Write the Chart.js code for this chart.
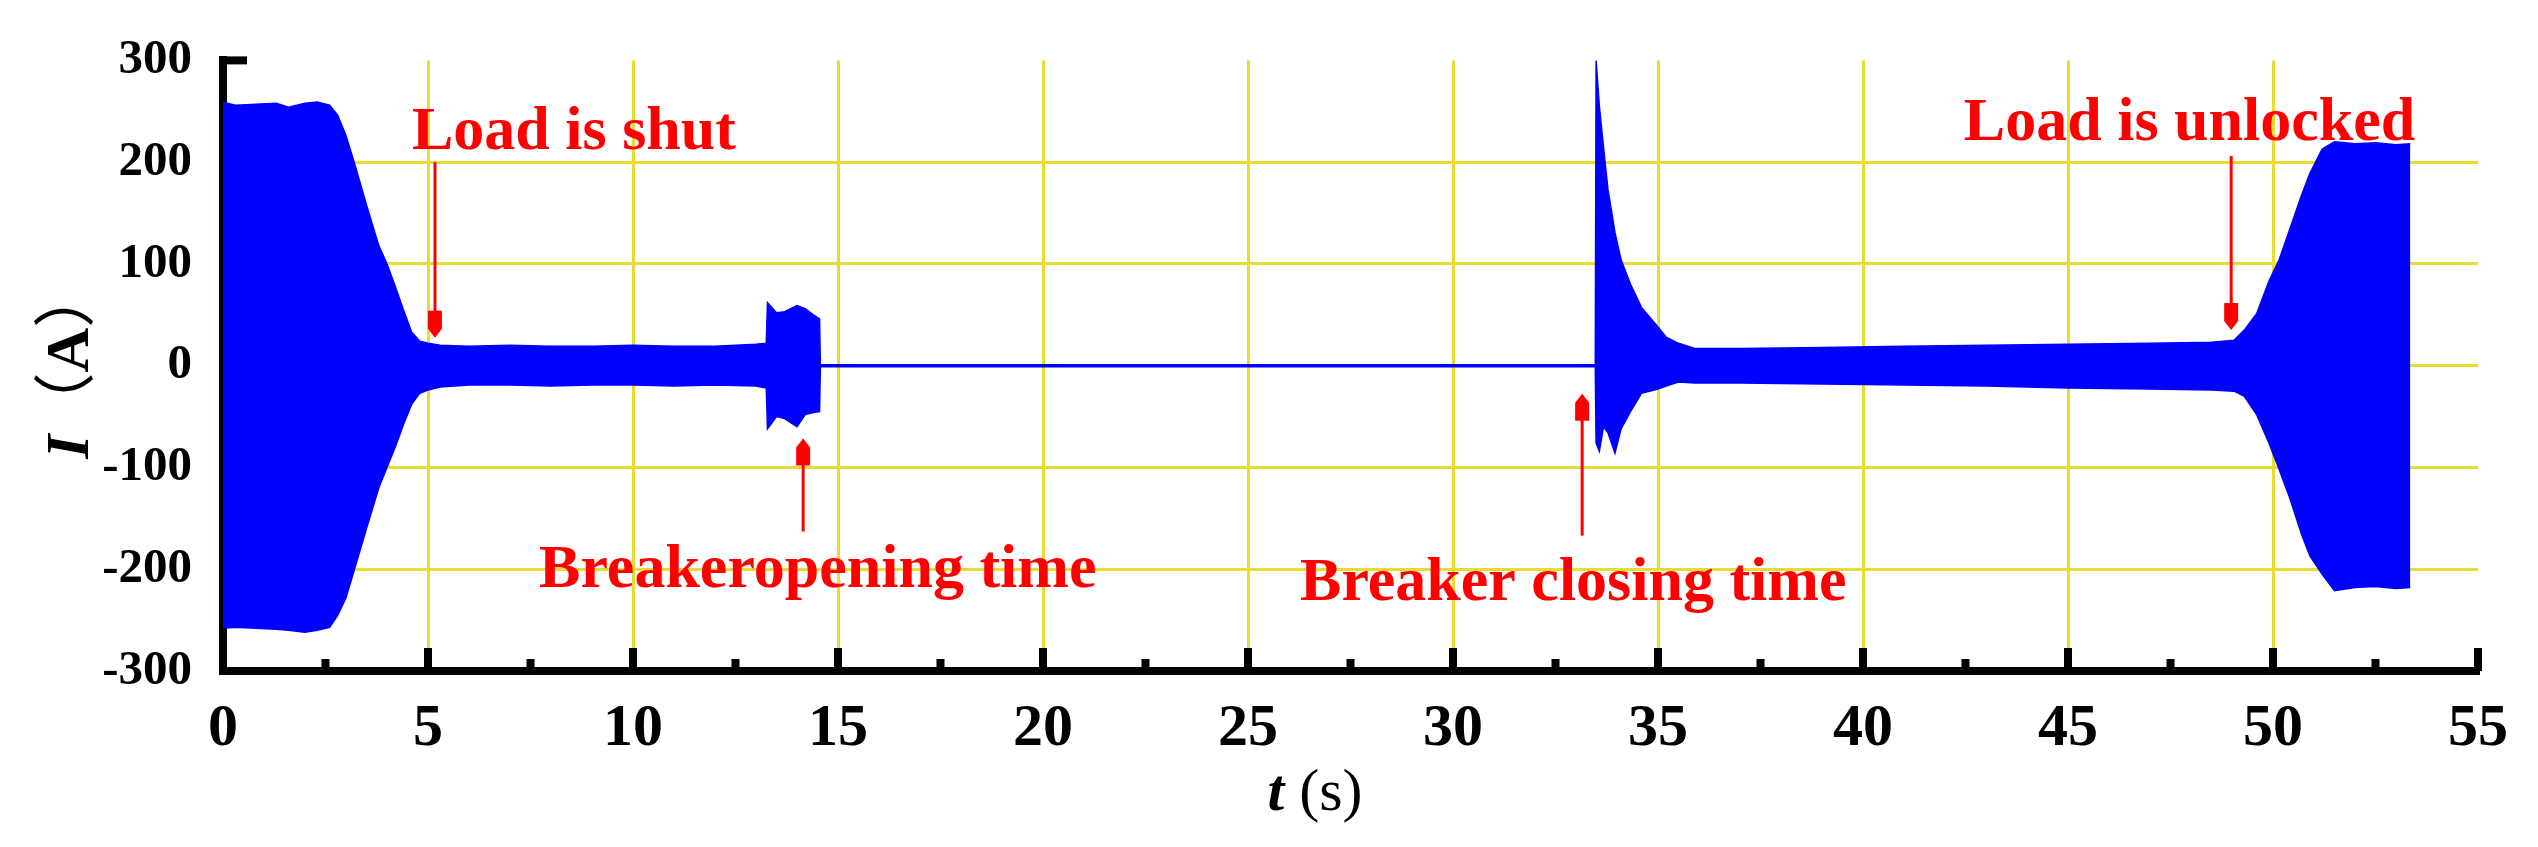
<!DOCTYPE html>
<html lang="en">
<head>
<meta charset="UTF-8" />
<title>Breaker current</title>
<script src="https://cdn.jsdelivr.net/npm/chart.js@4.4.1/dist/chart.umd.min.js"></script>
<style>
   html, body { margin: 0; padding: 0; background: #fff; }
   #wrap { width: 2538px; height: 847px; position: relative; }
</style>
</head>
<body>
<div id="wrap"><canvas id="chart"></canvas></div>
<script>
// envelope of the measured current, I (A) against t (s)
const times = [0, 0.3, 0.8, 1.3, 1.6, 2.0, 2.3, 2.6, 2.8, 3.0,
   3.2, 3.5, 3.8, 4.0, 4.2, 4.4, 4.6, 4.8, 5.0, 5.3,
   6, 7, 8, 9, 10, 11, 12, 13, 13.25, 13.28,
   13.5, 13.7, 14.0, 14.2, 14.4, 14.55, 14.57, 20, 25, 30,
   33.47, 33.49, 33.57, 33.67, 33.78, 33.95, 34.1, 34.33, 34.6, 35.0,
   35.2, 35.5, 35.9, 37, 39, 41, 43, 45, 47, 48.5,
   49.05, 49.3, 49.6, 49.9, 50.15, 50.4, 50.7, 50.9, 51.2, 51.5,
   52.0, 52.5, 53.0, 53.35];
const upper = [259, 256, 257, 258, 254, 258, 259, 256, 246, 226,
   200, 158, 118, 100, 78, 55, 33, 24, 22, 20,
   19, 20, 19, 19, 20, 19, 19, 21, 22, 62,
   52, 53, 59, 56, 50, 46, 1, 1, 1, 1,
   1, 300, 255, 215, 173, 131, 104, 80, 57, 38,
   28, 22, 17, 17, 18, 19, 20, 21, 22, 23,
   25, 35, 51, 83, 104, 133, 168, 189, 213, 220,
   218, 219, 217, 218];
const lower = [-258, -257, -258, -259, -260, -262, -260, -257, -245, -228,
   -201, -160, -120, -100, -80, -58, -38, -27, -24, -21,
   -19, -19, -20, -19, -19, -20, -19, -20, -22, -62,
   -50, -52, -60, -48, -46, -45, -1, -1, -1, -1,
   -1, -76, -84, -60, -66, -86, -62, -45, -27, -23,
   -20, -16, -17, -17, -18, -19, -20, -22, -23, -24,
   -25, -30, -48, -76, -102, -129, -166, -187, -205, -221,
   -218, -217, -219, -218];

// annotations (data coordinates)
const notes = ['Load is shut', 'Breakeropening time', 'Breaker closing time', 'Load is unlocked'];
const noteX = [4.61, 7.71, 26.27, 42.46];
const noteY = [212.7, -217.6, -230, 221.6];
const arrowX = [5.17, 14.15, 33.15, 48.98];
const arrowFrom = [200, -163, -167, 206];
const arrowTo = [27.5, -71.6, -27.5, 35];

const BLUE = '#0000ff';
const RED = '#ff0000';
const GRID = 'rgb(232, 220, 48)';
const SERIF = '"Liberation Serif", "Times New Roman", serif';

const notesPlugin = {
   id: 'notes',
   afterDatasetsDraw(chart) {
      const { ctx, scales: { x, y } } = chart;
      ctx.save();
      ctx.fillStyle = RED;
      ctx.strokeStyle = RED;
      ctx.font = 'bold 62px ' + SERIF;
      ctx.textBaseline = 'alphabetic';
      notes.forEach((txt, i) => {
         ctx.fillText(txt, x.getPixelForValue(noteX[i]), y.getPixelForValue(noteY[i]));
         const ax = x.getPixelForValue(arrowX[i]);
         const y0 = y.getPixelForValue(arrowFrom[i]);
         const y1 = y.getPixelForValue(arrowTo[i]);
         const dir = y1 > y0 ? 1 : -1;
         ctx.lineWidth = 3;
         ctx.beginPath();
         ctx.moveTo(ax, y0);
         ctx.lineTo(ax, y1 - dir * 20);
         ctx.stroke();
         ctx.beginPath();
         ctx.moveTo(ax, y1);
         ctx.lineTo(ax + 7, y1 - dir * 9);
         ctx.lineTo(ax + 7, y1 - dir * 27);
         ctx.lineTo(ax - 7, y1 - dir * 27);
         ctx.lineTo(ax - 7, y1 - dir * 9);
         ctx.closePath();
         ctx.fill();
      });
      ctx.restore();
   }
};

const framePlugin = {
   id: 'frame',
   beforeDatasetsDraw(chart) {
      // inward tick marks
      const { ctx, chartArea: a, scales: { x, y } } = chart;
      ctx.save();
      ctx.fillStyle = '#000';
      for (let v = 2.5; v <= x.max; v += 2.5) {
         const px = x.getPixelForValue(v);
         const h = v % 5 === 0 ? 23 : 12;
         ctx.fillRect(px - 4, a.bottom - h, 8, h);
      }
      for (let v = y.min + 100; v <= y.max; v += 100) {
         const py = y.getPixelForValue(v);
         ctx.fillRect(a.left, py - 4, 24, 8);
      }
      ctx.restore();
   },
   afterDraw(chart) {
      // axis titles with mixed styles
      const { ctx, chartArea: a } = chart;
      ctx.save();
      ctx.fillStyle = '#000';
      ctx.textBaseline = 'alphabetic';
      let tx = (a.left + a.right) / 2 - 83;
      const ty = a.bottom + 139;
      ctx.font = 'italic bold 60px ' + SERIF;
      ctx.fillText('t', tx, ty);
      tx += ctx.measureText('t').width;
      ctx.font = '60px ' + SERIF;
      ctx.fillText(' (s)', tx, ty);

      ctx.translate(a.left - 135, (a.top + a.bottom) / 2 + 93);
      ctx.rotate(-Math.PI / 2);
      let w = 0;
      ctx.font = 'italic bold 62px ' + SERIF;
      ctx.fillText('I', w, 0);
      w += ctx.measureText('I').width;
      ctx.font = '62px "Noto Sans CJK SC"';
      ctx.fillText('（', w, 0);
      w += ctx.measureText('（').width;
      ctx.font = 'bold 62px ' + SERIF;
      ctx.fillText('A', w, 0);
      w += ctx.measureText('A').width;
      ctx.font = '62px "Noto Sans CJK SC"';
      ctx.fillText('）', w, 0);
      ctx.restore();
   }
};

const ctx = document.getElementById('chart').getContext('2d');
const chart = new Chart(ctx, {
   type: 'line',
   data: {
      datasets: [
         {
            label: 'upper',
            data: times.map((t, i) => ({ x: t, y: upper[i] })),
            borderColor: BLUE,
            backgroundColor: BLUE,
            borderWidth: 1.5,
            pointRadius: 0,
            tension: 0,
            fill: '+1'
         },
         {
            label: 'lower',
            data: times.map((t, i) => ({ x: t, y: lower[i] })),
            borderColor: BLUE,
            backgroundColor: BLUE,
            borderWidth: 1.5,
            pointRadius: 0,
            tension: 0,
            fill: false
         }
      ]
   },
   options: {
      responsive: true,
      maintainAspectRatio: false,
      animation: false,
      layout: { padding: { left: 0, top: 59, right: 60, bottom: 0 } },
      plugins: {
         legend: { display: false },
         tooltip: { enabled: false }
      },
      scales: {
         x: {
            type: 'linear',
            min: 0,
            max: 55,
            afterFit: (scale) => { scale.height = 176; },
            ticks: {
               stepSize: 5,
               autoSkip: false,
               maxRotation: 0,
               padding: 22,
               color: '#000',
               font: { family: SERIF, size: 60, weight: 'bold', lineHeight: 1.2 }
            },
            grid: {
               drawTicks: false,
               lineWidth: 3,
               color: (c) => (c.tick && (c.tick.value === 0 || c.tick.value === 55)) ? 'rgba(0,0,0,0)' : GRID
            },
            border: { display: true, color: '#000', width: 8 }
         },
         y: {
            min: -300,
            max: 300,
            afterFit: (scale) => { scale.width = 223; },
            ticks: {
               stepSize: 100,
               padding: 31,
               color: '#000',
               font: { family: SERIF, size: 49, weight: 'bold', lineHeight: 1.2 }
            },
            grid: {
               drawTicks: false,
               lineWidth: 3,
               color: (c) => (c.tick && Math.abs(c.tick.value) === 300) ? 'rgba(0,0,0,0)' : GRID
            },
            border: { display: true, color: '#000', width: 8 }
         }
      }
   },
   plugins: [framePlugin, notesPlugin]
});
</script>
</body>
</html>
